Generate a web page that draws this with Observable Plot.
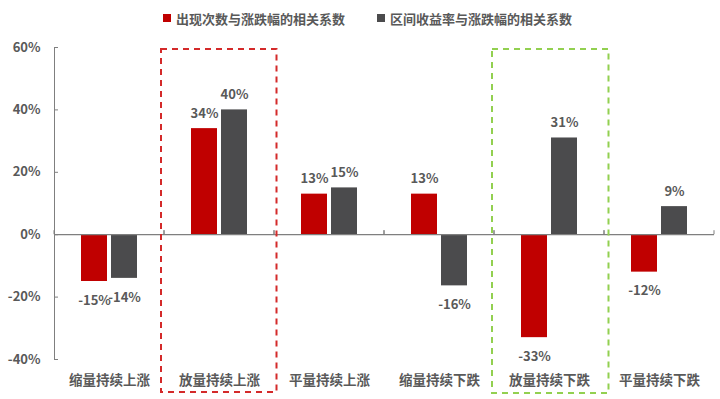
<!DOCTYPE html>
<html>
<head>
<meta charset="utf-8">
<script src="https://cdn.jsdelivr.net/npm/d3@7"></script>
<script src="https://cdn.jsdelivr.net/npm/@observablehq/plot@0.6"></script>
<style>
  html, body { margin: 0; padding: 0; background: #fff; }
  #wrap { position: relative; width: 720px; height: 399px; font-family: "Noto Sans CJK SC", "Noto Sans", sans-serif; }
  #legend { position: absolute; top: 8px; left: 0; width: 720px; height: 20px; font-size: 13px; font-weight: 700; color: #595959; }
  .item { position: absolute; top: 0; display: flex; align-items: center; height: 20px; white-space: nowrap; }
  .sw { width: 8px; height: 8px; margin-right: 5px; }
</style>
</head>
<body>
<div id="wrap">
  <div id="legend"></div>
  <div id="chart"></div>
</div>
<script>
const categories = ["缩量持续上涨", "放量持续上涨", "平量持续上涨", "缩量持续下跌", "放量持续下跌", "平量持续下跌"];
const seriesNames = ["出现次数与涨跌幅的相关系数", "区间收益率与涨跌幅的相关系数"];
const seriesColors = ["#C00000", "#4B4B4D"];
const countCorr = [-0.15, 0.34, 0.13, 0.13, -0.33, -0.12];
const returnCorr = [-0.14, 0.40, 0.15, -0.164, 0.31, 0.09];
const yTicks = [-0.4, -0.2, 0, 0.2, 0.4, 0.6];
const redBoxCategory = "放量持续上涨";
const greenBoxCategory = "放量持续下跌";

const data = [];
categories.forEach((c, i) => {
  data.push({category: c, series: seriesNames[0], value: countCorr[i]});
  data.push({category: c, series: seriesNames[1], value: returnCorr[i]});
});

// legend
const legend = document.getElementById("legend");
const legendLeft = [163, 377];
seriesNames.forEach((s, i) => {
  const it = document.createElement("div");
  it.className = "item";
  it.style.left = legendLeft[i] + "px";
  it.innerHTML = `<span class="sw" style="background:${seriesColors[i]}"></span><span>${s}</span>`;
  legend.appendChild(it);
});

const pct = d => `${Math.round(d * 100)}%`;
const labelStyle = {fill: "#595959", fontSize: 13, fontWeight: 700};

const edgeTicks = (index, scales, values, dims) => {
  const ns = "http://www.w3.org/2000/svg";
  const g = document.createElementNS(ns, "g");
  const y0 = scales.y(0);
  for (const x of [dims.marginLeft, dims.width - dims.marginRight]) {
    const l = document.createElementNS(ns, "line");
    l.setAttribute("x1", x); l.setAttribute("x2", x);
    l.setAttribute("y1", y0); l.setAttribute("y2", y0 - 4);
    l.setAttribute("stroke", "#7F7F7F");
    l.setAttribute("stroke-width", 1);
    g.appendChild(l);
  }
  return g;
};

const chart = Plot.plot({
  width: 720,
  height: 399,
  marginLeft: 54,
  marginRight: 6,
  marginTop: 47,
  marginBottom: 40,
  style: {fontFamily: '"Noto Sans CJK SC", "Noto Sans", sans-serif', background: "transparent"},
  fx: {domain: categories, padding: 0, label: null},
  x: {domain: seriesNames, paddingInner: 0.13, paddingOuter: 0.84, axis: null},
  y: {domain: [-0.4, 0.6], label: null},
  color: {domain: seriesNames, range: seriesColors},
  marks: [
    Plot.axisFx({anchor: "bottom", tickSize: 0, tickPadding: 16, fontSize: 13.5, fontWeight: 700, color: "#595959", label: null}),
    Plot.axisY({ticks: yTicks, tickFormat: pct, tickSize: -4, tickPadding: 18, fontSize: 13, fontWeight: 700, color: "#595959", stroke: "#7F7F7F", label: null}),
    Plot.frame({anchor: "left", facetAnchor: "left", stroke: "#7F7F7F"}),
    Plot.barY(data, {fx: "category", x: "series", y: "value", fill: "series"}),
    Plot.ruleY([0], {stroke: "#7F7F7F", strokeWidth: 1.2}),
    edgeTicks,
    Plot.text(data.filter(d => d.value >= 0), {fx: "category", x: "series", y: "value", text: d => pct(d.value), dy: -15, ...labelStyle}),
    Plot.text(data.filter(d => d.value < 0), {fx: "category", x: "series", y: "value", text: d => pct(d.value), dy: 19, ...labelStyle}),
    Plot.rect([{category: redBoxCategory}], {fx: "category", y1: -0.4, y2: 0.6, insetTop: 2, insetBottom: -33, insetLeft: -3, insetRight: -2.5, fill: "none", stroke: "#D42A2A", strokeWidth: 2, strokeDasharray: "6,5"}),
    Plot.rect([{category: greenBoxCategory}], {fx: "category", y1: -0.4, y2: 0.6, insetTop: 2, insetBottom: -34, insetLeft: -2, insetRight: -4.5, fill: "none", stroke: "#92D050", strokeWidth: 2, strokeDasharray: "6,5"})
  ]
});
document.getElementById("chart").appendChild(chart);
</script>
</body>
</html>
